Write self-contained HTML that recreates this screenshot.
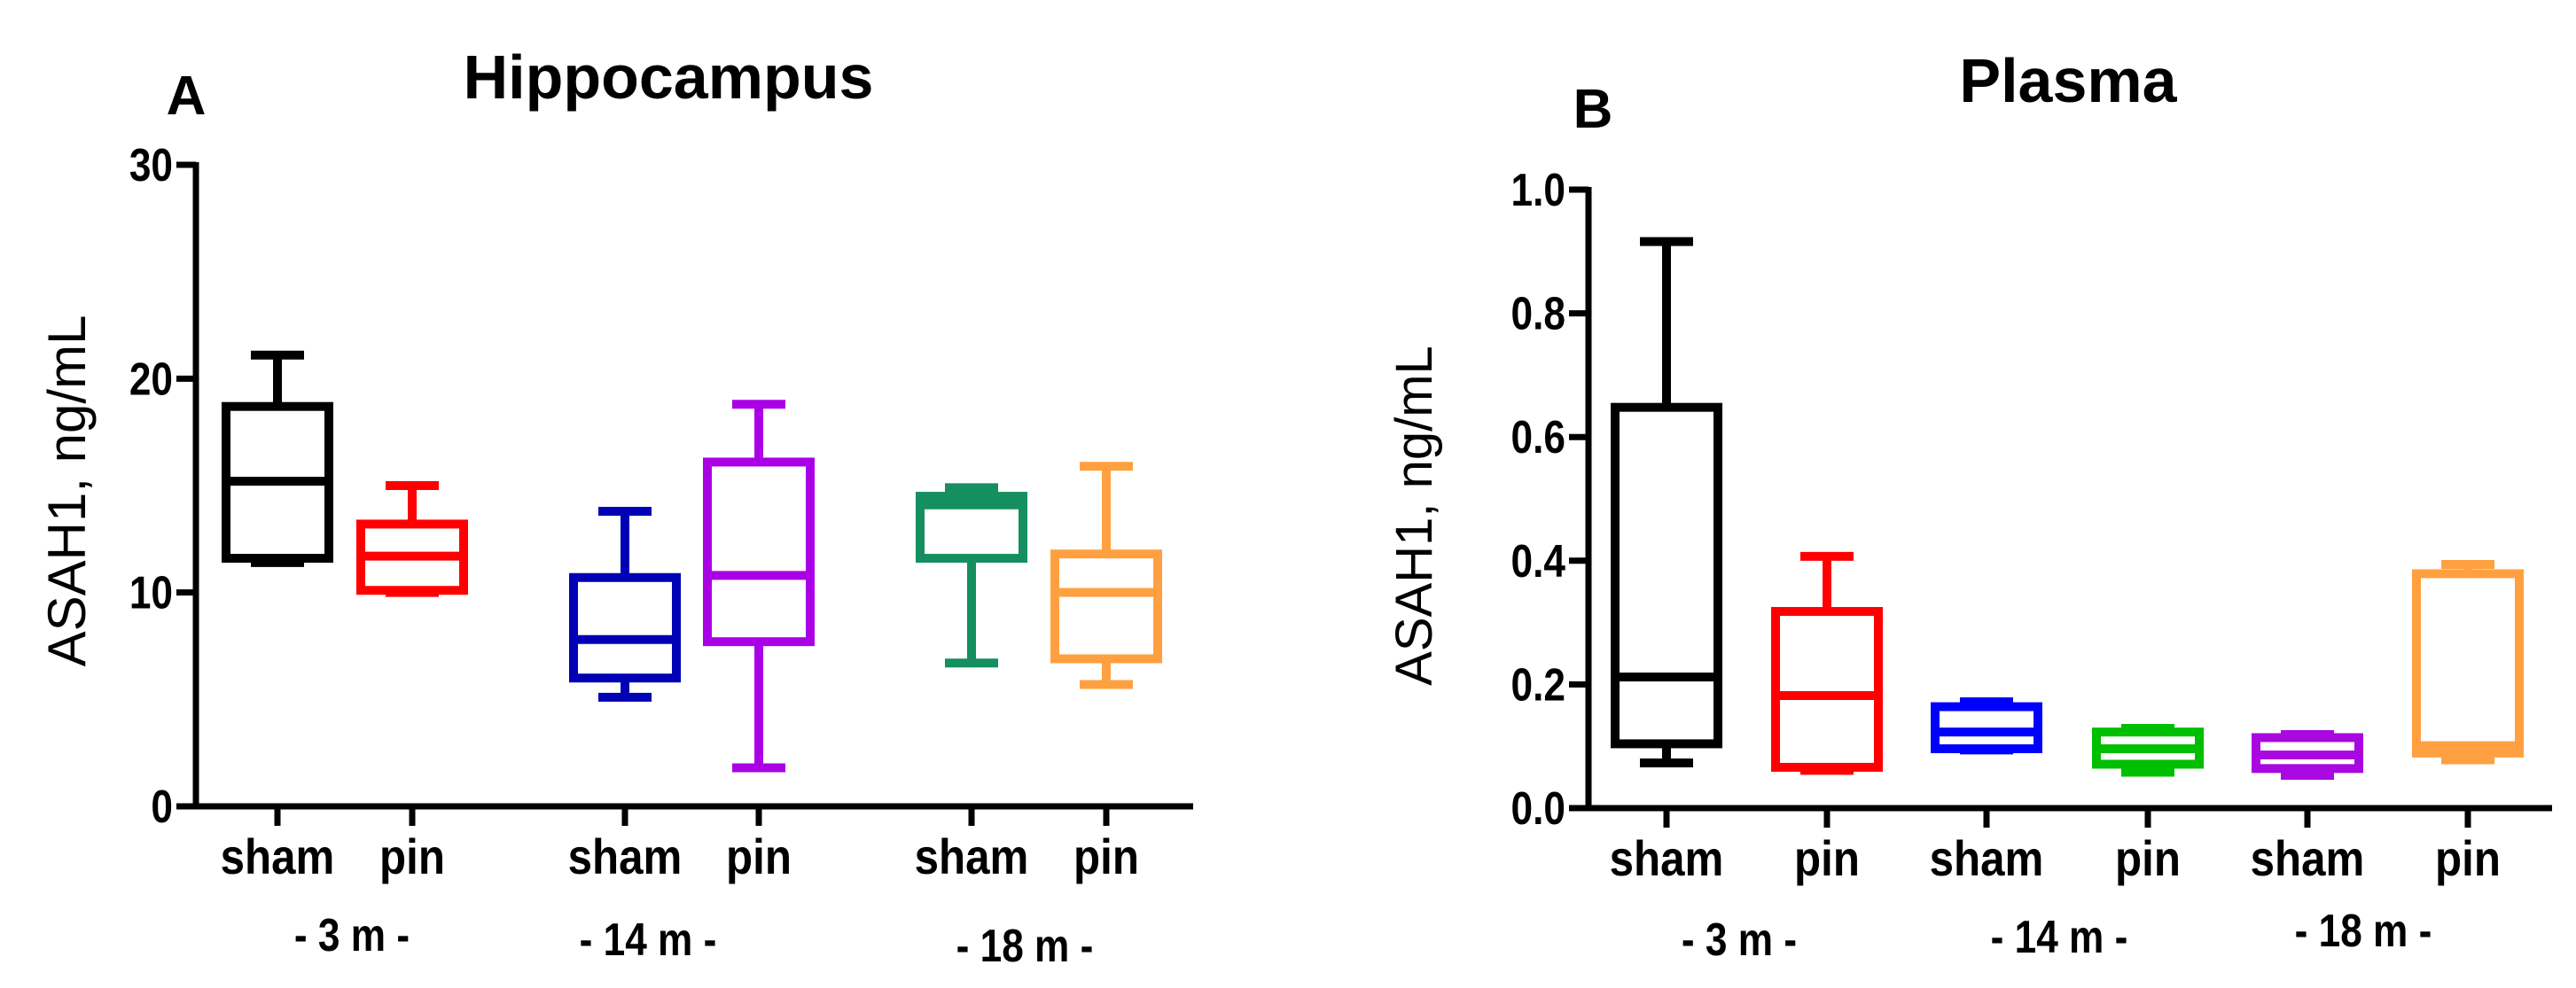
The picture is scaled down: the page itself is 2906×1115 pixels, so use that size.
<!DOCTYPE html>
<html><head><meta charset="utf-8"><style>
html,body{margin:0;padding:0;background:#fff;}
svg{display:block;font-family:"Liberation Sans",Arial,sans-serif;}
</style></head><body>
<svg id="chart" width="2906" height="1115" viewBox="0 0 2906 1115">
<text x="210" y="129" font-size="62" font-weight="bold" text-anchor="middle">A</text>
<text x="754" y="111" font-size="70" font-weight="bold" text-anchor="middle">Hippocampus</text>
<text x="1797" y="144" font-size="62" font-weight="bold" text-anchor="middle">B</text>
<text x="2333" y="115" font-size="70" font-weight="bold" text-anchor="middle">Plasma</text>
<g id="pa"></g>
<g id="pb"></g>
</svg>
<script>
// Panel A data (Hippocampus): min, Q1, median, Q3, max
const catsA = ["sham","pin","sham","pin","sham","pin"];
const minA = [11.4, 10.0, 5.1, 1.8, 6.7, 5.7];
const q1A  = [11.6, 10.1, 6.0, 7.7, 11.6, 6.9];
const medA = [15.2, 11.7, 7.8, 10.8, 14.1, 10.0];
const q3A  = [18.7, 13.2, 10.7, 16.1, 14.5, 11.8];
const maxA = [21.1, 15.0, 13.8, 18.8, 14.9, 15.9];
const ticksA = [0, 10, 20, 30];
const tickLabelsA = ["0","10","20","30"];
const groupsA = ["- 3 m -","- 14 m -","- 18 m -"];
// Panel B data (Plasma)
const catsB = ["sham","pin","sham","pin","sham","pin"];
const minB = [0.073, 0.061, 0.094, 0.058, 0.053, 0.078];
const q1B  = [0.104, 0.066, 0.096, 0.071, 0.064, 0.089];
const medB = [0.212, 0.182, 0.123, 0.096, 0.086, 0.101];
const q3B  = [0.648, 0.318, 0.164, 0.123, 0.114, 0.379];
const maxB = [0.916, 0.407, 0.172, 0.129, 0.119, 0.394];
const ticksB = [0, 0.2, 0.4, 0.6, 0.8, 1.0];
const tickLabelsB = ["0.0","0.2","0.4","0.6","0.8","1.0"];
const groupsB = ["- 3 m -","- 14 m -","- 18 m -"];

const NS = "http://www.w3.org/2000/svg";
function mk(parent, tag, attrs, text) {
  const e = document.createElementNS(NS, tag);
  for (const k in attrs) e.setAttribute(k, attrs[k]);
  if (text !== undefined) e.textContent = text;
  parent.appendChild(e);
  return e;
}

function drawPanel(g, cfg) {
  const y = v => cfg.y0 - (v / cfg.vmax) * (cfg.y0 - cfg.yTop);
  const x = i => cfg.xs[i];
  const ya = mk(g, "line", {x1: cfg.ax, y1: cfg.yTop - 3, x2: cfg.ax, y2: cfg.y0 + 3, stroke: "#000", "stroke-width": 7});
  
  
  const xa = mk(g, "line", {x1: cfg.ax - 20, y1: cfg.y0, x2: cfg.xEnd, y2: cfg.y0, stroke: "#000", "stroke-width": 7});
  
  
  cfg.ticks.forEach((t, i) => {
    const tl = mk(g, "line", {x1: cfg.ax - 22, y1: y(t), x2: cfg.ax, y2: y(t), stroke: "#000", "stroke-width": 7});
    
    
    const tx = mk(g, "text", {x: cfg.ax - 26, y: y(t) + 18, "font-size": 52, "font-weight": "bold", "text-anchor": "end", transform: `translate(${cfg.ax - 26},0) scale(0.85,1) translate(${-(cfg.ax - 26)},0)`}, cfg.tickLabels[i]);
    
    
  });
  const yt = mk(g, "text", {x: 0, y: 0, "font-size": cfg.ytSize, "text-anchor": "middle", transform: `translate(${cfg.ytX},${cfg.ytY}) rotate(-90)`}, "ASAH1, ng/mL");
  
  
  cfg.cats.forEach((c, i) => {
    const cx = x(i), hw = 58, cap = 30, col = cfg.colors[i];
    const tk = mk(g, "line", {x1: cx, y1: cfg.y0, x2: cx, y2: cfg.y0 + 22, stroke: "#000", "stroke-width": 7});
    
    
    const lb = mk(g, "text", {x: cx, y: cfg.y0 + 76, "font-size": 56, "font-weight": "bold", "text-anchor": "middle", transform: `translate(${cx},0) scale(0.88,1) translate(${-cx},0)`}, c);
    
    
    const bg = mk(g, "g", {});
    
    
    const sw = 10;
    mk(bg, "line", {x1: cx, y1: y(cfg.max[i]), x2: cx, y2: y(cfg.q3[i]), stroke: col, "stroke-width": sw});
    mk(bg, "line", {x1: cx, y1: y(cfg.q1[i]), x2: cx, y2: y(cfg.min[i]), stroke: col, "stroke-width": sw});
    mk(bg, "line", {x1: cx - cap, y1: y(cfg.max[i]), x2: cx + cap, y2: y(cfg.max[i]), stroke: col, "stroke-width": sw});
    mk(bg, "line", {x1: cx - cap, y1: y(cfg.min[i]), x2: cx + cap, y2: y(cfg.min[i]), stroke: col, "stroke-width": sw});
    mk(bg, "rect", {x: cx - hw, y: y(cfg.q3[i]), width: 2 * hw, height: Math.max(0, y(cfg.q1[i]) - y(cfg.q3[i])), fill: "none", stroke: col, "stroke-width": sw});
    mk(bg, "line", {x1: cx - hw, y1: y(cfg.med[i]), x2: cx + hw, y2: y(cfg.med[i]), stroke: col, "stroke-width": sw});
  });
  cfg.groups.forEach((gl, j) => {
    const t = mk(g, "text", {x: cfg.gx[j], y: cfg.gy[j], "font-size": 52, "font-weight": "bold", "text-anchor": "middle", transform: `translate(${cfg.gx[j]},0) scale(0.85,1) translate(${-cfg.gx[j]},0)`}, gl);
    
    
  });
}

drawPanel(document.getElementById("pa"), {
  ax: 221, xEnd: 1346, y0: 910, yTop: 186, vmax: 30,
  xs: [313, 465, 705, 856, 1096, 1248],
  cats: catsA, min: minA, q1: q1A, med: medA, q3: q3A, max: maxA,
  ticks: ticksA, tickLabels: tickLabelsA, groups: groupsA,
  gx: [397, 731, 1156], gy: [1073, 1078, 1085],
  colors: ["#000000", "#ff0000", "#0000b4", "#aa00e6", "#158f60", "#ffa040"],
  ytX: 96, ytY: 554, ytSize: 60
});
drawPanel(document.getElementById("pb"), {
  ax: 1792, xEnd: 2879, y0: 912, yTop: 214, vmax: 1.0,
  xs: [1880, 2061, 2241, 2423, 2603, 2784],
  cats: catsB, min: minB, q1: q1B, med: medB, q3: q3B, max: maxB,
  ticks: ticksB, tickLabels: tickLabelsB, groups: groupsB,
  gx: [1962, 2323, 2666], gy: [1078, 1075, 1068],
  colors: ["#000000", "#ff0000", "#0000ff", "#00bf00", "#aa08e0", "#ffa040"],
  ytX: 1615, ytY: 582, ytSize: 58
});
</script>
</body></html>
